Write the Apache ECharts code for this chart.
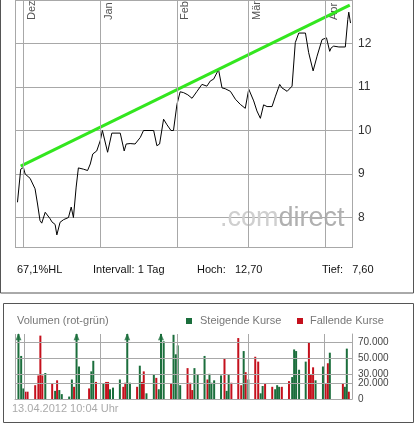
<!DOCTYPE html>
<html>
<head>
<meta charset="utf-8">
<script src="https://cdn.jsdelivr.net/npm/echarts@6/dist/echarts.min.js"></script>
<style>
html, body { margin: 0; padding: 0; background: #fff; }
#chart { width: 417px; height: 425px; }
</style>
</head>
<body>
<div id="chart"></div>
<script>
// Kurs: Tage ab 1. Dez 2011 und Schlusskurse
var kursTage = [-2.4, -1.1, 0, 0.7, 2.7, 4.7, 5.7, 6.7, 7.4, 8.8, 10.8, 11.5, 12.8, 13.5, 14.8, 16.2, 18.2, 19.3, 20.2, 21.3,
	22.2, 24.3, 25.9, 27, 28, 29.6, 31, 31.9, 34, 35.7, 39.1, 40.7, 41.5, 43.1, 45.1, 47.2, 48.5, 52.6, 53.9, 55,
	56.6, 58, 59.6, 60.6, 62, 63.3, 64.7, 66.4, 68.1, 70.1, 72.1, 74.1, 75.5, 76.8, 78.8, 80.2, 81.5, 83.6, 85.6, 87.6,
	89.6, 91, 93, 94.3, 95.7, 97, 98.4, 100.4, 101.8, 103.5, 104.4, 106.5, 108.5, 109.8, 111.2, 113.9, 115.2, 117, 118.6, 120.6,
	122.4, 123.7, 124.3, 125.3, 127.4, 130, 131, 131.4, 132.1];
var kurse = [8.35, 9.11, 9.15, 9.0, 8.9, 8.66, 8.31, 7.93, 7.87, 8.12, 7.97, 7.9, 7.84, 7.6, 7.89, 7.95, 8.0, 8.24, 8.0, 8.7,
	9.14, 9.11, 9.08, 9.23, 9.46, 9.53, 9.76, 10.0, 9.5, 9.94, 9.94, 9.53, 9.69, 9.7, 9.69, 9.84, 10.0, 10.0, 9.65, 9.69,
	10.26, 10.13, 10.0, 10.0, 10.6, 10.89, 10.87, 10.82, 10.74, 10.9, 11.06, 11.02, 11.14, 11.18, 11.4, 10.98, 10.96, 10.9, 10.72, 10.6,
	10.51, 10.95, 10.68, 10.45, 10.28, 10.59, 10.55, 10.55, 10.79, 11.06, 10.98, 10.9, 11.02, 12.02, 12.24, 12.24, 11.79, 11.37, 11.71, 12.09,
	12.13, 11.82, 11.9, 11.94, 11.92, 11.92, 12.55, 12.72, 12.47];
var trendTage = [-1.1, 131.8];
var trendWerte = [9.18, 12.88];

// Volumen
var volTage = [-2.4, -1.3, -0.4, 0.4, 1.3, 4.4, 5.7, 6.5, 7.3, 8.5, 11.3, 12.5, 13.3, 14.2, 15.2, 18.2, 19.3, 20.2, 21.2, 22.2,
	26.3, 27.2, 28, 29.1, 32.1, 33.2, 34, 34.8, 36, 38.8, 40.2, 41, 41.8, 42.9, 45.8, 46.9, 47.8, 48.5, 49.6, 52.6,
	53.6, 54.6, 55.5, 56.6, 59.6, 60.6, 61.5, 62.3, 63.3, 66.3, 67.4, 68.2, 69.1, 70.4, 73.2, 74.4, 75.2, 76, 77.1, 79.9,
	81.3, 82.2, 83, 84.1, 86.9, 88.1, 89.1, 89.9, 91, 93.8, 95, 96, 96.8, 97.8, 100.7, 101.9, 102.7, 103.5, 104.6, 107.5,
	108.8, 109.6, 110.4, 111.6, 114.3, 115.6, 116.4, 117.3, 118.3, 121.3, 122.4, 123.3, 124.1, 129.4, 130.2, 131, 131.8];
var volumen = [90, 53, 13, 9, 9, 17, 29, 78, 29, 32, 19, 10, 23, 11, 6, 3, 24, 15, 90, 40,
	13, 34, 47, 21, 19, 21, 21, 12, 14, 24, 15, 20, 90, 20, 15, 41, 21, 34, 7, 30,
	26, 12, 90, 71, 19, 79, 55, 66, 17, 38, 20, 11, 38, 30, 53, 24, 31, 20, 23, 29,
	50, 10, 30, 20, 75, 17, 59, 33, 24, 52, 46, 7, 16, 19, 15, 12, 17, 15, 15, 22,
	27, 61, 59, 36, 46, 70, 30, 39, 23, 40, 19, 44, 57, 19, 15, 62, 9];
var volRichtung = [1, 1, 1, -1, -1, -1, -1, -1, -1, 1, -1, 1, -1, 1, 1, 1, 1, -1, 1, 1,
	-1, 1, 1, -1, 1, -1, -1, 1, 1, 1, -1, -1, 1, 1, -1, 1, -1, -1, 1, 1,
	-1, 1, 1, 1, -1, 1, 1, 1, 1, -1, -1, -1, 1, 1, 1, -1, 1, 1, 1, 1,
	-1, 1, 1, -1, -1, -1, 1, -1, 1, -1, -1, 1, 1, -1, -1, 1, 1, 1, -1, -1,
	1, 1, 1, 1, 1, -1, -1, -1, 1, 1, -1, -1, 1, -1, 1, 1, -1];
var volTicks = [0, 20000, 30000, 50000, 70000];
var volMax = 80000;

var monate = ['Dez', 'Jan', 'Feb', 'Mär', 'Apr'];
var monatsTage = [0, 31, 62, 91, 122];

var basis = Date.UTC(2011, 11, 1);
function tag(t) { return basis + t * 86400000; }
var xMin = tag(-3.4), xMax = tag(132.7);

var gruen = '#1b6e3c', rot = '#c4101c', gitter = '#a8a8a8';
var monatsLinien = monatsTage.map(function(t) { return { xAxis: tag(t) }; });

var myChart = echarts.init(document.getElementById('chart'));
var option = {
	animation: false,
	textStyle: { fontFamily: 'Arial, Liberation Sans, sans-serif' },
	grid: [
		{ left: 15, right: 65, top: -2, bottom: 164 },
		{ left: 15, right: 65, top: 334, bottom: 26 }
	],
	xAxis: [
		{ type: 'time', gridIndex: 0, min: xMin, max: xMax, axisLine: { show: false }, axisTick: { show: false },
			axisLabel: { show: false }, splitLine: { show: false } },
		{ type: 'time', gridIndex: 1, min: xMin, max: xMax, axisLine: { lineStyle: { color: gitter } }, axisTick: { show: false },
			axisLabel: { show: false }, splitLine: { show: false } }
	],
	yAxis: [
		{ type: 'value', gridIndex: 0, position: 'right', min: 7, max: 13, interval: 1,
			axisLine: { show: true, lineStyle: { color: gitter } }, axisTick: { show: false },
			axisLabel: { color: '#333', fontSize: 12, margin: 6, formatter: function(v) { return (v > 7 && v < 13) ? v : ''; } },
			splitLine: { lineStyle: { color: gitter } } },
		{ type: 'value', gridIndex: 1, position: 'right', min: 0, max: volMax, interval: 10000,
			axisLine: { show: true, lineStyle: { color: gitter } }, axisTick: { show: false },
			axisLabel: { color: '#444', fontSize: 10, margin: 6,
				formatter: function(v) { return volTicks.indexOf(v) >= 0 ? (v === 0 ? '0' : (v / 1000) + '.000') : ''; } },
			splitLine: { show: false } }
	],
	series: [
		{ type: 'line', xAxisIndex: 0, yAxisIndex: 0, symbol: 'none', z: 3,
			lineStyle: { color: '#000', width: 1 },
			data: kursTage.map(function(t, i) { return [tag(t), kurse[i]]; }),
			markLine: { silent: true, symbol: 'none', label: { show: false }, lineStyle: { color: gitter, type: 'solid', width: 1 }, data: monatsLinien } },
		{ type: 'line', xAxisIndex: 0, yAxisIndex: 0, symbol: 'none', z: 4,
			lineStyle: { color: '#33e61f', width: 3 },
			data: trendTage.map(function(t, i) { return [tag(t), trendWerte[i]]; }) },
		{ type: 'bar', xAxisIndex: 1, yAxisIndex: 1, barWidth: 2, z: 3,
			data: volTage.map(function(t, i) {
				return { value: [tag(t), volumen[i] * 1000], itemStyle: { color: volRichtung[i] > 0 ? gruen : rot } };
			}),
			markLine: { silent: true, symbol: 'none', label: { show: false }, lineStyle: { color: gitter, type: 'solid', width: 1 },
				data: monatsLinien.concat(volTicks.slice(1).map(function(v) { return { yAxis: v }; })) } },
		{ type: 'scatter', xAxisIndex: 1, yAxisIndex: 1, symbol: 'triangle', symbolSize: [6, 7], z: 4,
			itemStyle: { color: gruen },
			data: volTage.map(function(t, i) { return volumen[i] * 1000 > volMax ? [tag(t), volMax - 3500] : null; })
				.filter(function(d) { return d; }) }
	]
};
myChart.setOption(option);

// Beschriftungen, Rahmen, Wasserzeichen
var g = [];
monatsTage.forEach(function(t, i) {
	var px = myChart.convertToPixel({ xAxisIndex: 0 }, tag(t));
	g.push({ type: 'text', x: px + 3, y: 20, rotation: Math.PI / 2,
		style: { text: monate[i], fill: '#555', fontSize: 11, textVerticalAlign: 'top', fontFamily: 'Arial' } });
});
g.push({ type: 'rect', shape: { x: 0, y: 248, width: 417, height: 16 }, style: { fill: '#fff' }, z: 50 });
g.push({ type: 'line', shape: { x1: 15, y1: 247.5, x2: 352, y2: 247.5 }, style: { stroke: gitter }, z: 51 });
g.push({ type: 'line', shape: { x1: 15.5, y1: 0, x2: 15.5, y2: 247 }, style: { stroke: gitter }, z: 51 });
g.push({ type: 'line', shape: { x1: 15.5, y1: 334, x2: 15.5, y2: 399 }, style: { stroke: gitter }, z: 51 });
g.push({ type: 'rect', shape: { x: 0.5, y: -3, width: 413, height: 296 }, style: { fill: 'none', stroke: '#555' }, z: 51 });
g.push({ type: 'rect', shape: { x: 3.5, y: 303.5, width: 410, height: 119 }, style: { fill: 'none', stroke: '#555' }, z: 51 });
g.push({ type: 'text', x: 220, y: 205, z: 2,
	style: { text: '{a|.com}{b|direct}', fontSize: 27, fontFamily: 'Arial',
		rich: { a: { fill: '#cfcfcf', fontSize: 27 }, b: { fill: '#b0b0b0', fontSize: 27 } } } });
var info = [['67,1%HL', 17], ['Intervall: 1 Tag', 93], ['Hoch:   12,70', 197], ['Tief:   7,60', 322]];
info.forEach(function(it) {
	g.push({ type: 'text', x: it[1], y: 264, z: 52, style: { text: it[0], fill: '#111', fontSize: 11, fontFamily: 'Arial' } });
});
g.push({ type: 'text', x: 17, y: 315, style: { text: 'Volumen (rot-grün)', fill: '#777', fontSize: 11, fontFamily: 'Arial' } });
g.push({ type: 'rect', shape: { x: 186, y: 318, width: 6, height: 6 }, style: { fill: gruen } });
g.push({ type: 'text', x: 200, y: 315, style: { text: 'Steigende Kurse', fill: '#777', fontSize: 11, fontFamily: 'Arial' } });
g.push({ type: 'rect', shape: { x: 297, y: 318, width: 6, height: 6 }, style: { fill: rot } });
g.push({ type: 'text', x: 310, y: 315, style: { text: 'Fallende Kurse', fill: '#777', fontSize: 11, fontFamily: 'Arial' } });
g.push({ type: 'text', x: 12, y: 403, style: { text: '13.04.2012 10:04 Uhr', fill: '#aaa', fontSize: 11, fontFamily: 'Arial' } });
myChart.setOption({ graphic: g });
</script>
</body>
</html>
